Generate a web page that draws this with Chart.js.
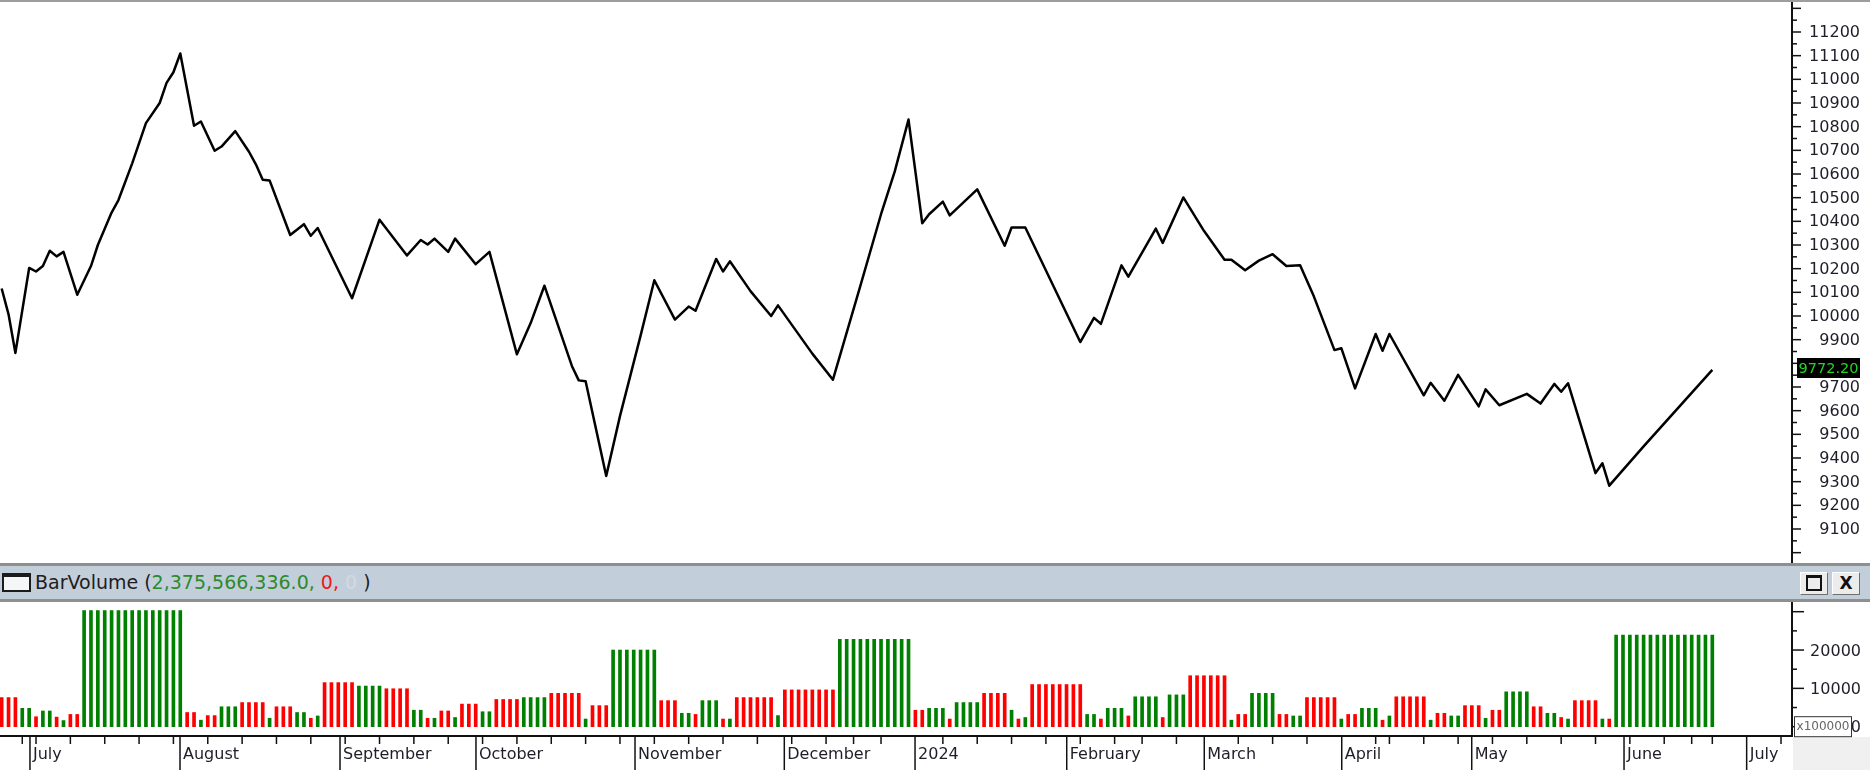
<!DOCTYPE html>
<html>
<head>
<meta charset="utf-8">
<script src="https://cdn.jsdelivr.net/npm/chart.js@4.4.1/dist/chart.umd.min.js"></script>
<style>
  html, body { margin:0; padding:0; background:#ffffff; }
  body { width:1870px; height:770px; position:relative; overflow:hidden; font-family:"DejaVu Sans", sans-serif; }
  #topline { position:absolute; left:0; top:0; width:1870px; height:2px; background:#9d9d9d; z-index:2; }
  #pc { position:absolute; left:0; top:0; }
  #vc { position:absolute; left:0; top:602px; }
  #hdr { position:absolute; left:0; top:563px; width:1870px; height:33px; background:#c3cedb; border-top:3px solid #8f8f8f; border-bottom:3px solid #8f8f8f; }
  #icon { position:absolute; left:2px; top:7px; width:29px; height:19px; box-sizing:border-box; border:2px solid #1b1b1b; border-top-width:4px; background:#f4f6f8; }
  #title { position:absolute; left:35px; top:0; height:33px; line-height:33px; font-size:19px; color:#1d1d1d; white-space:pre; }
  .g { color:#2d8a2d; } .r { color:#f01818; } .f { color:#d3d9e0; }
  .btn { position:absolute; top:6px; width:28px; height:23px; box-sizing:border-box; background:#ececec; border:1px solid; border-color:#ffffff #6f6f6f #6f6f6f #ffffff; }
  #b1 { left:1800px; } #b2 { left:1832px; }
  #sq { position:absolute; left:5px; top:2px; width:16px; height:16px; box-sizing:border-box; border:2px solid #111; border-top-width:3px; }
  #xx { position:absolute; left:0; top:0; width:26px; height:21px; line-height:21px; text-align:center; font-size:17px; font-weight:bold; color:#111; }
</style>
</head>
<body>
<div id="topline"></div>
<canvas id="pc" width="1870" height="563"></canvas>
<div id="hdr">
  <div id="icon"></div>
  <div id="title">BarVolume (<span class="g">2,375,566,336.0,</span><span class="r"> 0,</span><span class="f"> 0</span> )</div>
  <div class="btn" id="b1"><div id="sq"></div></div>
  <div class="btn" id="b2"><div id="xx">X</div></div>
</div>
<canvas id="vc" width="1870" height="168"></canvas>
<script>
// ---------------- DATA ----------------
// price line vertices: trading-day index and close value
const priceIdx = [0,1,2,4,5,6,7,8,9,11,13,14,16,17,19,21,23,24,25,26,28,29,31,32,34,36,37,38,39,42,44,45,46,51,55,59,61,62,63,65,66,69,71,75,77,79,83,84,85,88,90,93,95,98,100,101,104,105,106,109,112,113,118,121,125,128,130,132,134,135,137,138,142,146,147,149,157,159,160,163,164,168,169,172,175,178,179,181,183,185,187,189,191,194,195,197,200,201,202,207,208,210,212,215,216,218,222,224,226,227,228,232,233,234,239,249];
const priceVal = [10116,10007,9844,10203,10188,10211,10276,10252,10271,10090,10211,10300,10437,10490,10645,10815,10900,10985,11030,11109,10804,10822,10698,10716,10781,10694,10641,10576,10573,10342,10388,10339,10372,10075,10407,10256,10321,10302,10327,10271,10327,10219,10271,9838,9970,10128,9789,9728,9724,9324,9577,9917,10151,9985,10040,10022,10241,10188,10231,10105,10000,10045,9841,9731,10128,10430,10611,10830,10392,10430,10483,10425,10535,10297,10374,10374,9890,9992,9967,10214,10166,10369,10309,10501,10360,10238,10238,10193,10234,10261,10211,10214,10083,9856,9864,9694,9924,9853,9924,9665,9718,9642,9751,9618,9690,9623,9671,9630,9713,9680,9716,9336,9378,9283,9449,9772.2];

// volume per trading day (axis units, x100000)
const volumeVal = [
  7600,7600,7600,4800,4800,2600,4100,4100,2500,1600,
  3200,3200,30300,30300,30300,30300,30300,30300,30300,30300,
  30300,30300,30300,30300,30300,30300,30300,3700,3700,1700,
  2900,2900,5200,5200,5200,6300,6300,6300,6300,2200,
  5200,5200,5200,3700,3700,2200,2800,11500,11500,11500,
  11500,11500,10600,10600,10600,10600,9900,9900,9900,9900,
  4300,4300,2200,2200,4100,4100,2400,5900,5900,5900,
  3900,3900,7100,7100,7100,7100,7600,7600,7600,7600,
  8700,8700,8700,8700,8700,2000,5500,5500,5500,20000,
  20000,20000,20000,20000,20000,20000,6800,6800,6800,3500,
  3500,3200,6800,6800,6800,2000,2000,7600,7600,7600,
  7600,7600,7600,2900,9600,9600,9600,9600,9600,9600,
  9600,9600,22800,22800,22800,22800,22800,22800,22800,22800,
  22800,22800,22800,4300,4300,4800,4800,4800,2000,6300,
  6300,6300,6300,8700,8700,8700,8700,4300,2000,2400,
  11000,11000,11000,11000,11000,11000,11000,11000,3200,3200,
  2000,4800,4800,4800,2800,7800,7800,7800,7800,2400,
  8300,8300,8300,13300,13300,13300,13300,13300,13300,1700,
  3200,3200,8700,8700,8700,8700,3200,3200,2800,2800,
  7600,7600,7600,7600,7600,2000,3200,3200,4800,4800,
  4800,1700,2800,7800,7800,7800,7800,7800,1700,3500,
  3500,2800,2800,5500,5500,5500,2200,4300,4300,9100,
  9100,9100,9100,5200,5200,3500,3500,2400,2000,6800,
  6800,6800,6800,2000,2000,23900,23900,23900,23900,23900,
  23900,23900,23900,23900,23900,23900,23900,23900,23900,23900
];
// 1 = up bar (green), 0 = down bar (red)
const volumeUp = [
  0,0,0,1,1,0,1,1,0,1,
  0,0,1,1,1,1,1,1,1,1,
  1,1,1,1,1,1,1,0,0,1,
  0,0,1,1,1,0,0,0,0,1,
  0,0,0,1,1,0,1,0,0,0,
  0,0,1,1,1,1,0,0,0,0,
  1,1,0,1,0,0,1,0,0,0,
  1,1,0,0,0,0,1,1,1,1,
  0,0,0,0,0,1,0,0,0,1,
  1,1,1,1,1,1,0,0,0,1,
  1,0,1,1,1,0,1,0,0,0,
  0,0,0,1,0,0,0,0,0,0,
  0,0,1,1,1,1,1,1,1,1,
  1,1,1,0,0,1,1,1,0,1,
  1,1,1,0,0,0,0,1,0,1,
  0,0,0,0,0,0,0,0,1,1,
  0,1,1,1,0,1,1,1,1,0,
  1,1,1,0,0,0,0,0,0,1,
  0,0,1,1,1,1,0,0,1,1,
  0,0,0,0,0,1,0,0,1,1,
  1,0,1,0,0,0,0,0,1,0,
  0,1,1,0,0,0,1,0,0,1,
  1,1,1,0,0,1,1,0,1,0,
  0,0,0,1,0,1,1,1,1,1,
  1,1,1,1,1,1,1,1,1,1
];

const priceTickLabels = [9100,9200,9300,9400,9500,9600,9700,9800,9900,10000,10100,10200,10300,10400,10500,10600,10700,10800,10900,11000,11100,11200];
const volumeTickLabels = [0, 10000, 20000];
const monthIdx = [4.12, 25.96, 49.25, 69.04, 92.19, 113.92, 132.95, 155.03, 175.05, 195.06, 213.98, 236.15, 254.0];
const monthLabels = ["July","August","September","October","November","December","2024","February","March","April","May","June","July"];
const weekIdx = [3,5,10,15,20,25,30,35,40,45,50,55,60,65,70,75,80,85,90,95,100,105,110,115,120,124,128,137,142,147,152,157,162,166,171,180,185,190,200,202,207,212,217,222,227,232,237,242,246,249,259];
const lastPriceText = "9772.20";
const volumeUnitText = "x100000";

// ---------------- STYLE ----------------
const X_MIN = -0.243, X_MAX = 260.6;
const FONT = '"DejaVu Sans", sans-serif';
const TXT = '#1e1e28';
const GREEN = '#008000', RED = '#ff0000';

const priceAxis = {
  id: 'priceAxis',
  afterDraw(chart) {
    const ctx = chart.ctx, ys = chart.scales.y, a = chart.chartArea;
    ctx.save();
    ctx.fillStyle = '#111';
    ctx.fillRect(a.right - 1, a.top, 2, a.bottom - a.top);
    ctx.strokeStyle = '#111';
    ctx.lineWidth = 1.5;
    for (let v = 9000; v <= 11300; v += 50) {
      const py = ys.getPixelForValue(v);
      const len = (v % 100 === 0) ? 9 : 5;
      ctx.beginPath(); ctx.moveTo(a.right, py); ctx.lineTo(a.right + len, py); ctx.stroke();
    }
    const lp = priceVal[priceVal.length - 1];
    const boxY = ys.getPixelForValue(lp) - 2;
    ctx.fillStyle = TXT;
    ctx.font = '16px ' + FONT;
    ctx.textAlign = 'right';
    ctx.textBaseline = 'middle';
    for (const v of priceTickLabels) {
      const ty = ys.getPixelForValue(v) + 1;
      if (Math.abs(ty - boxY) < 14) continue; // hidden under the last-value marker
      ctx.fillText(String(v), 1860, ty);
    }
    // last value marker
    ctx.fillStyle = '#000';
    ctx.fillRect(1797, Math.round(boxY - 10), 63, 20);
    ctx.fillStyle = '#22d622';
    ctx.font = '14.5px ' + FONT;
    ctx.textAlign = 'center';
    ctx.fillText(lastPriceText, 1828.5, boxY + 1);
    ctx.restore();
  }
};

const volAxis = {
  id: 'volAxis',
  afterDraw(chart) {
    const ctx = chart.ctx, ys = chart.scales.y, xs = chart.scales.x, a = chart.chartArea;
    const H = chart.height;
    ctx.save();
    // gray corner under the value axis
    ctx.fillStyle = '#f0f0f0';
    ctx.fillRect(a.right + 1, a.bottom + 1, chart.width - a.right, H - a.bottom);
    // y axis line
    ctx.fillStyle = '#111';
    ctx.fillRect(a.right - 1, a.top, 2, a.bottom - a.top + 1);
    ctx.strokeStyle = '#111';
    ctx.lineWidth = 1.5;
    for (let v = 0; v <= 30000; v += 5000) {
      const py = ys.getPixelForValue(v);
      const len = (v % 10000 === 0) ? 12 : 5;
      ctx.beginPath(); ctx.moveTo(a.right, py); ctx.lineTo(a.right + len, py); ctx.stroke();
    }
    ctx.fillStyle = TXT;
    ctx.font = '16px ' + FONT;
    ctx.textAlign = 'right';
    ctx.textBaseline = 'middle';
    for (const v of volumeTickLabels) {
      ctx.fillText(String(v), 1861, ys.getPixelForValue(v) + 1.5);
    }
    // unit box
    const by = ys.getPixelForValue(0) - 10.5;
    ctx.fillStyle = '#ffffff';
    ctx.fillRect(1794, by, 58, 21);
    ctx.strokeStyle = '#333';
    ctx.lineWidth = 1;
    ctx.strokeRect(1794.5, by + 0.5, 57, 20);
    ctx.fillStyle = '#666';
    ctx.font = '12px ' + FONT;
    ctx.textAlign = 'center';
    ctx.fillText(volumeUnitText, 1823, by + 11);

    // x axis
    ctx.fillStyle = '#111';
    ctx.fillRect(0, a.bottom - 1, a.right + 1, 2);
    ctx.strokeStyle = '#111';
    ctx.lineWidth = 1.5;
    for (const w of weekIdx) {
      const px = xs.getPixelForValue(w);
      ctx.beginPath(); ctx.moveTo(px, a.bottom); ctx.lineTo(px, a.bottom + 8); ctx.stroke();
    }
    ctx.font = '16px ' + FONT;
    ctx.textAlign = 'left';
    ctx.textBaseline = 'alphabetic';
    for (let i = 0; i < monthIdx.length; i++) {
      const px = xs.getPixelForValue(monthIdx[i]);
      ctx.beginPath(); ctx.moveTo(px, a.bottom); ctx.lineTo(px, H); ctx.stroke();
      ctx.fillStyle = TXT;
      ctx.fillText(monthLabels[i], px + 3, a.bottom + 23);
    }
    ctx.restore();
  }
};

new Chart(document.getElementById('pc'), {
  type: 'line',
  data: {
    datasets: [{
      data: priceIdx.map((x, i) => ({ x: x, y: priceVal[i] })),
      borderColor: '#000000',
      borderWidth: 2.5,
      pointRadius: 0,
      tension: 0,
      fill: false,
      borderJoinStyle: 'round'
    }]
  },
  options: {
    responsive: false,
    animation: false,
    devicePixelRatio: 1,
    layout: { padding: { left: 0, right: 78, top: 2, bottom: 0 } },
    plugins: { legend: { display: false }, tooltip: { enabled: false } },
    scales: {
      x: { type: 'linear', min: X_MIN, max: X_MAX, display: false, offset: false },
      y: { type: 'linear', min: 8956.34, max: 11326.76, display: false }
    }
  },
  plugins: [priceAxis]
});

new Chart(document.getElementById('vc'), {
  type: 'bar',
  data: {
    datasets: [{
      data: volumeVal.map((v, i) => ({ x: i, y: v })),
      backgroundColor: volumeUp.map(u => u ? GREEN : RED),
      barThickness: 3,
      borderWidth: 0
    }]
  },
  options: {
    responsive: false,
    animation: false,
    devicePixelRatio: 1,
    layout: { padding: { left: 0, right: 78, top: 0, bottom: 34 } },
    plugins: { legend: { display: false }, tooltip: { enabled: false } },
    scales: {
      x: { type: 'linear', min: X_MIN, max: X_MAX, display: false, offset: false, grid: { offset: false } },
      y: { type: 'linear', min: -2426, max: 32530, display: false }
    }
  },
  plugins: [volAxis]
});
</script>
</body>
</html>
